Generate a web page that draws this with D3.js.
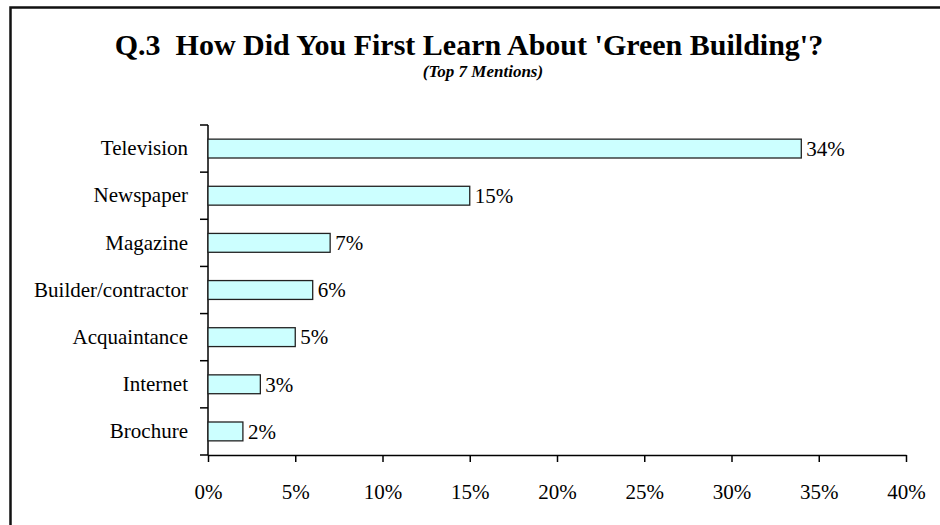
<!DOCTYPE html>
<html>
<head>
<meta charset="utf-8">
<script src="https://cdn.jsdelivr.net/npm/d3@7"></script>
<style>
  html, body { margin: 0; padding: 0; background: #fff; }
  svg { display: block; }
  text { font-family: "Liberation Serif", "Times New Roman", serif; fill: #000; }
</style>
</head>
<body>
<svg id="chart" width="940" height="525"></svg>
<script>
// Survey answers, top 7 mentions
const categories = ["Television", "Newspaper", "Magazine", "Builder/contractor", "Acquaintance", "Internet", "Brochure"];
const shares = [34, 15, 7, 6, 5, 3, 2];
const xTicks = [0, 5, 10, 15, 20, 25, 30, 35, 40];

const svg = d3.select("#chart");
const plotLeft = 208, plotRight = 906, plotTop = 125, plotBottom = 455;
const labelSize = 21;

// outer frame (runs off the right/bottom edge)
svg.append("rect")
  .attr("x", 10.5).attr("y", 7.5)
  .attr("width", 960).attr("height", 560)
  .attr("fill", "none").attr("stroke", "#111").attr("stroke-width", 2.5);

svg.append("text")
  .attr("x", 469).attr("y", 55)
  .attr("text-anchor", "middle")
  .attr("font-size", 30).attr("font-weight", "bold")
  .attr("xml:space", "preserve")
  .text("Q.3  How Did You First Learn About 'Green Building'?");

svg.append("text")
  .attr("x", 483).attr("y", 77)
  .attr("text-anchor", "middle")
  .attr("font-size", 17).attr("font-weight", "bold").attr("font-style", "italic")
  .text("(Top 7 Mentions)");

const x = d3.scaleLinear().domain([0, 40]).range([plotLeft, plotRight]);
const y = d3.scaleBand().domain(categories).range([plotTop, plotBottom])
  .paddingInner(0.6).paddingOuter(0.3);

// x axis
const xAxis = svg.append("g")
  .attr("transform", `translate(0,${plotBottom})`)
  .call(d3.axisBottom(x).tickValues(xTicks).tickFormat(d => d + "%")
    .tickSize(7).tickSizeOuter(0).tickPadding(22));
xAxis.select(".domain").attr("stroke", "#000").attr("stroke-width", 1.5);
xAxis.selectAll(".tick line").attr("stroke", "#000").attr("stroke-width", 1.5);
xAxis.selectAll("text").attr("font-size", labelSize).attr("font-family", "Liberation Serif");

// y axis: category labels
const yAxis = svg.append("g")
  .attr("transform", `translate(${plotLeft},0)`)
  .call(d3.axisLeft(y).tickSize(0).tickPadding(20));
yAxis.select(".domain").remove();
yAxis.selectAll("text").attr("font-size", labelSize).attr("font-family", "Liberation Serif");

// y axis line with ticks at the band boundaries
const step = y.step();
const bounds = d3.range(categories.length + 1).map(i => plotTop + i * step);
svg.append("line")
  .attr("x1", plotLeft).attr("x2", plotLeft).attr("y1", plotTop).attr("y2", plotBottom)
  .attr("stroke", "#000").attr("stroke-width", 1.5);
svg.selectAll(".ytick").data(bounds).join("line")
  .attr("class", "ytick")
  .attr("x1", plotLeft - 8).attr("x2", plotLeft)
  .attr("y1", d => d).attr("y2", d => d)
  .attr("stroke", "#000").attr("stroke-width", 1.5);

// bars
const rows = categories.map((c, i) => ({ c, v: shares[i] }));
svg.selectAll(".bar").data(rows).join("rect")
  .attr("class", "bar")
  .attr("x", x(0)).attr("y", d => y(d.c))
  .attr("width", d => x(d.v) - x(0)).attr("height", y.bandwidth())
  .attr("fill", "#ccffff").attr("stroke", "#222").attr("stroke-width", 1.3);

// value labels
svg.selectAll(".val").data(rows).join("text")
  .attr("class", "val")
  .attr("x", d => x(d.v) + 5)
  .attr("y", d => y(d.c) + y.bandwidth() / 2)
  .attr("dy", "0.35em")
  .attr("font-size", labelSize)
  .text(d => d.v + "%");
</script>
</body>
</html>
